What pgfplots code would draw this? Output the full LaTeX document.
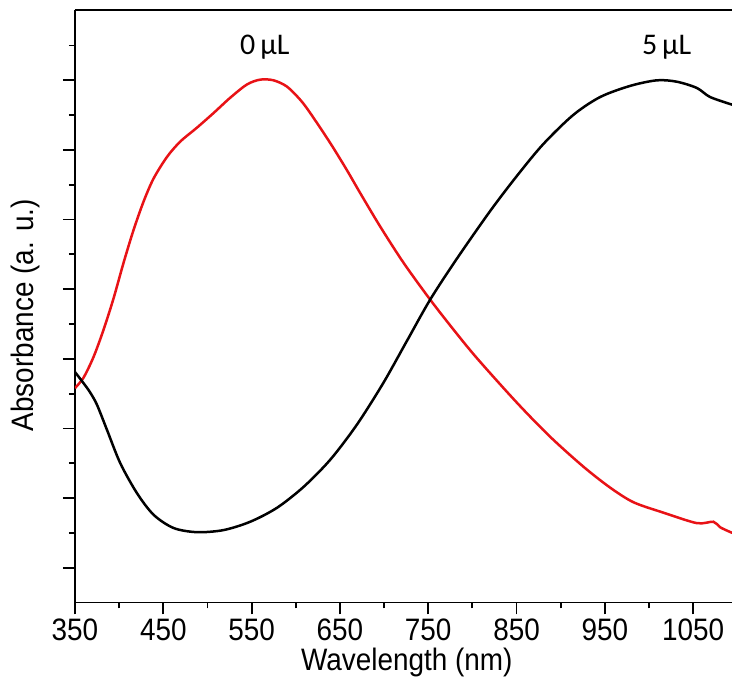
\documentclass[border=0pt]{standalone}
\usepackage{fontspec}
\setmainfont{Liberation Sans}[FakeStretch=0.9]
\newfontfamily\annfont{Carlito}
\usepackage{pgfplots}
\pgfplotsset{compat=1.18}

\definecolor{specred}{RGB}{232,18,22}

\begin{document}
\begin{tikzpicture}
\begin{axis}[
    at={(0,0)}, anchor=south west,
    scale only axis,
    width=328.5pt, height=296.25pt,
    xmin=350, xmax=1094,
    ymin=0, ymax=8.51,
    axis x line*=box, axis y line*=left,
    xtick pos=bottom, ytick pos=left,
    axis line style={line width=0.9pt},
    tick style={line width=0.9pt, black},
    tick align=outside,
    major tick length=6pt, minor tick length=3pt,
    xtick={350,450,...,1050},
    minor xtick={400,500,...,1000},
    ytick={0.5,1.5,...,7.5}, yticklabels={},
    minor ytick={1,2,...,8},
    /pgf/number format/assume math mode=true,
    /pgf/number format/1000 sep={},
    ticklabel style={font=\fontsize{15.5}{18}\selectfont},
    xticklabel style={yshift=1.2pt},
    xlabel={Wavelength (nm)},
    ylabel={Absorbance (a. u.)},
    label style={font=\fontsize{15.5}{18}\selectfont},
    xlabel style={at={(axis description cs:0.505,0)}, anchor=center, yshift=-30pt},
    ylabel style={at={(axis description cs:-0.076,0.485)}, anchor=center},
]
% 0 uL (red)
\addplot[specred, line width=1.25pt, smooth] coordinates {
(350,3.08) (359.7,3.23) (371.1,3.53) (382.4,3.92) (393.7,4.37) (405.0,4.88)
(416.3,5.35) (427.7,5.76) (439.0,6.09) (454.2,6.40) (469.2,6.62) (488.1,6.82)
(506.9,7.03) (525.8,7.25) (544.7,7.44) (559.8,7.51) (574.8,7.50) (590.0,7.41)
(605.1,7.22) (616.4,7.03) (639.0,6.60) (657.9,6.21) (673.0,5.88) (695.6,5.40)
(722.0,4.88) (752.2,4.35) (778.6,3.92) (805.1,3.51) (850.4,2.87)
(888.1,2.38) (925.8,1.95) (956.0,1.65) (982.4,1.44) (1016.4,1.29) (1054.2,1.14)
(1073.0,1.16) (1080.6,1.08) (1094.2,1.00)
};
% 5 uL (black)
\addplot[black, line width=1.25pt, smooth] coordinates {
(350,3.31) (359.7,3.15) (367,3.02) (374.9,2.84) (386.2,2.48) (401.3,2.00)
(420.2,1.57) (439.0,1.26) (461.6,1.07) (488.1,1.01) (518.2,1.04) (548.5,1.16)
(578.7,1.36) (608.8,1.66) (639.0,2.05) (669,2.55) (699,3.15) (726,3.76)
(752.2,4.35) (782,4.93) (820,5.62) (850,6.12) (880,6.58) (914,7.00)
(944.7,7.26) (978.7,7.42) (1008.9,7.50) (1031.5,7.48)
(1054.2,7.39) (1069.2,7.26) (1094.2,7.15)
};
\node[font=\annfont\fontsize{15}{18}\selectfont] at (axis cs:565,7.97) {0\,µL};
\node[font=\annfont\fontsize{15}{18}\selectfont] at (axis cs:1020,7.97) {5\,µL};
\end{axis}
\pgfresetboundingbox
\path[use as bounding box] (-37.5pt,-42.75pt) rectangle (328.5pt,301.25pt);
\end{tikzpicture}
\end{document}
